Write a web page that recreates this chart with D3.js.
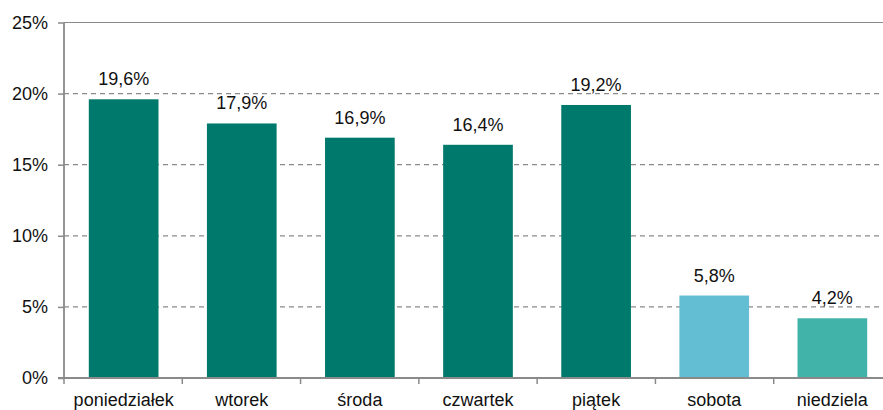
<!DOCTYPE html>
<html>
<head>
<meta charset="utf-8">
<script src="https://cdn.jsdelivr.net/npm/d3@7/dist/d3.min.js"></script>
<style>
  html, body { margin: 0; padding: 0; background: #fff; }
  svg { display: block; }
  text { font-family: "Liberation Sans", Arial, sans-serif; fill: #111; }
</style>
</head>
<body>
<svg id="chart" width="883" height="410"></svg>
<script>
// Share of transactions by day of week
const days = ["poniedziałek", "wtorek", "środa", "czwartek", "piątek", "sobota", "niedziela"];
const shares = [19.6, 17.9, 16.9, 16.4, 19.2, 5.8, 4.2];
const barColors = ["#00796D", "#00796D", "#00796D", "#00796D", "#00796D", "#63BED3", "#42B3A8"];
const yTicks = [0, 5, 10, 15, 20, 25];

const svg = d3.select("#chart");
const plotLeft = 64, plotRight = 892, plotTop = 22.5, plotBottom = 378;
const fontSize = 18;

const x = d3.scaleBand().domain(days).range([plotLeft, plotRight]).paddingInner(0.41).paddingOuter(0.21);
const y = d3.scaleLinear().domain([0, 25]).range([plotBottom, plotTop]);

// gridlines
svg.append("g").selectAll("line")
  .data(yTicks.filter(t => t > 0))
  .join("line")
  .attr("x1", plotLeft).attr("x2", plotRight)
  .attr("y1", d => y(d)).attr("y2", d => y(d))
  .attr("stroke", "#8a8a8a")
  .attr("stroke-width", 1.2)
  .attr("stroke-dasharray", d => d === 25 ? null : "5,4");

// bars
svg.append("g").selectAll("rect")
  .data(shares)
  .join("rect")
  .attr("x", (d, i) => x(days[i]))
  .attr("width", x.bandwidth())
  .attr("y", d => y(d))
  .attr("height", d => y(0) - y(d))
  .attr("fill", (d, i) => barColors[i]);

// value labels
svg.append("g").selectAll("text")
  .data(shares)
  .join("text")
  .attr("x", (d, i) => x(days[i]) + x.bandwidth() / 2)
  .attr("y", d => y(d) - 14)
  .attr("text-anchor", "middle")
  .attr("font-size", fontSize)
  .text(d => d.toFixed(1).replace(".", ",") + "%");

// y axis
const yAxis = svg.append("g")
  .attr("transform", `translate(${plotLeft},0)`)
  .call(d3.axisLeft(y).tickValues(yTicks).tickSize(6).tickPadding(10).tickFormat(d => d + "%"));
yAxis.select(".domain").remove();
yAxis.selectAll(".tick line").attr("stroke", "#8a8a8a").attr("stroke-width", 1.5);
yAxis.selectAll(".tick text").attr("font-size", fontSize).attr("font-family", "Liberation Sans, Arial, sans-serif").attr("fill", "#111");
svg.append("line")
  .attr("x1", plotLeft).attr("x2", plotLeft).attr("y1", plotTop).attr("y2", plotBottom + 1)
  .attr("stroke", "#8a8a8a").attr("stroke-width", 1.8);

// x axis
const xAxis = svg.append("g")
  .attr("transform", `translate(0,${plotBottom})`)
  .call(d3.axisBottom(x).tickSize(0).tickPadding(15));
xAxis.select(".domain").remove();
xAxis.selectAll(".tick text").attr("font-size", fontSize).attr("font-family", "Liberation Sans, Arial, sans-serif").attr("fill", "#111");
svg.append("line")
  .attr("x1", plotLeft - 6).attr("x2", plotRight).attr("y1", plotBottom).attr("y2", plotBottom)
  .attr("stroke", "#8a8a8a").attr("stroke-width", 1.8);
// category separators below the axis
svg.append("g").selectAll("line")
  .data(d3.range(days.length + 1))
  .join("line")
  .attr("x1", i => plotLeft + i * (plotRight - plotLeft) / days.length)
  .attr("x2", i => plotLeft + i * (plotRight - plotLeft) / days.length)
  .attr("y1", plotBottom).attr("y2", plotBottom + 6)
  .attr("stroke", "#8a8a8a").attr("stroke-width", 1.5);
</script>
</body>
</html>
